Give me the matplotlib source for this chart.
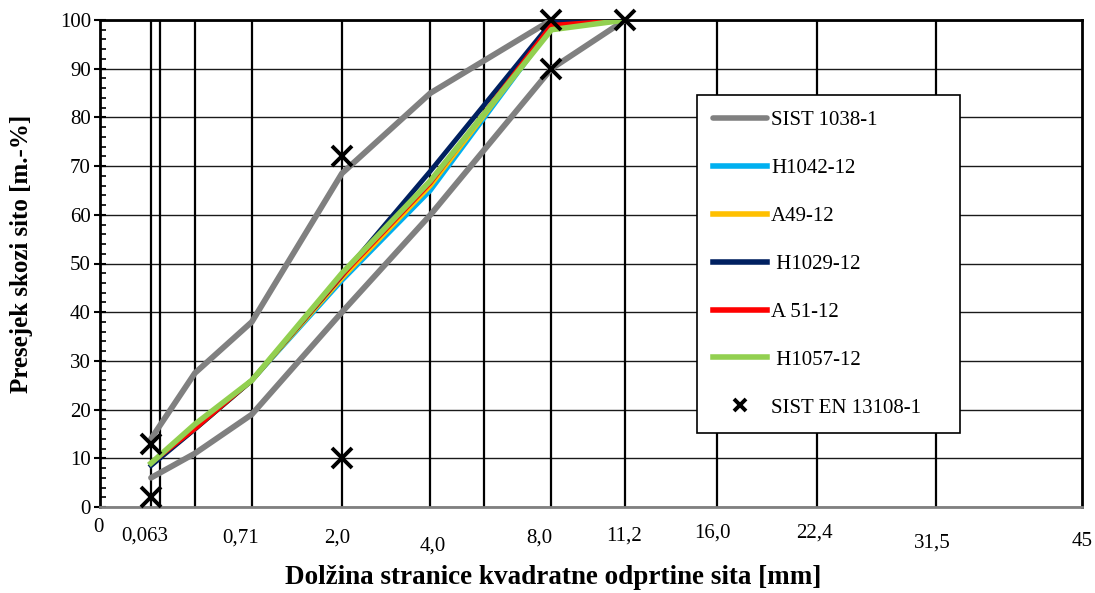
import matplotlib
matplotlib.use("Agg")
import matplotlib.pyplot as plt
import numpy as np

plt.rcParams['font.family'] = ['Liberation Serif', 'DejaVu Serif']

# sita (mm) in presejki (m.-%)
sita = [0.063, 0.25, 0.71, 2.0, 4.0, 8.0, 11.2]
meja_zg = [14, 27.5, 38, 68.5, 85, 100, 100]
meja_sp = [6, 11, 19, 40, 60, 90, 100]
h1042 = [9, 16, 26, 46.5, 65, 98.5, 100]
a49 = [9, 16, 26, 47, 66, 98.5, 100]
h1029 = [8.5, 16, 26, 47.5, 69, 99.5, 100]
a51 = [9, 16, 26, 47.5, 66.5, 99, 100]
h1057 = [9, 17, 26, 48, 67, 98, 100]

# SIST EN 13108-1 tocke
en_x = [0.063, 0.063, 2.0, 2.0, 8.0, 8.0, 11.2]
en_y = [13, 2, 72, 10, 100, 90, 100]

# navpicne crte sit in oznake
crte = [0.063, 0.09, 0.25, 0.71, 2.0, 4.0, 5.6, 8.0, 11.2, 16.0, 22.4, 31.5]
oznake_x = [0, 0.063, 0.71, 2.0, 4.0, 8.0, 11.2, 16.0, 22.4, 31.5, 45]
oznake = ['0', '0,063', '0,71', '2,0', '4,0', '8,0', '11,2', '16,0', '22,4', '31,5', '45']
# zamiki oznak v pikslih (dx, dy)
zamiki = [(-2, -25), (-6, -33), (-11, -35), (-5, -35), (2, -43), (-12, -35),
          (-1, -33), (-4, -30), (-3, -30), (-4, -40), (0, -39)]


def fwd(x):
    return np.power(np.clip(x, 0, None), 0.45)


def inv(y):
    return np.power(np.clip(y, 0, None), 1 / 0.45)


fig = plt.figure(figsize=(10.95, 5.93), dpi=100)
ax = fig.add_axes([100 / 1095, 86 / 593, 982 / 1095, 487 / 593])
ax.set_xscale('function', functions=(fwd, inv))
ax.set_xlim(0, 45)
ax.set_ylim(0, 100)

for c in crte:
    ax.axvline(c, color='black', lw=1.6, zorder=1)
ax.set_yticks(np.arange(0, 101, 10))
ax.set_yticks(np.arange(0, 101, 2), minor=True)
ax.yaxis.grid(True, which='major', color='#1a1a1a', lw=1.0, zorder=1)
ax.set_axisbelow(True)
ax.set_xticks([])
ax.set_xticks([], minor=True)
ax.tick_params(axis='y', which='major', direction='inout', length=9, width=1.5,
               labelsize=15, pad=2)
ax.tick_params(axis='y', which='minor', direction='in', length=4, width=1.2)

for s in ['top', 'left', 'right']:
    ax.spines[s].set_color('black')
    ax.spines[s].set_linewidth(2.0)
ax.spines['bottom'].set_color('#808080')
ax.spines['bottom'].set_linewidth(2.0)

ax.plot(sita, meja_zg, color='#808080', lw=4.2, solid_capstyle='round', label='SIST 1038-1', zorder=3)
ax.plot(sita, meja_sp, color='#808080', lw=4.2, solid_capstyle='round', zorder=3)
ax.plot(sita, h1042, color='#00B0F0', lw=3.5, label='H1042-12', zorder=4)
ax.plot(sita, a49, color='#FFC000', lw=3.5, label='A49-12', zorder=4)
ax.plot(sita, h1029, color='#002060', lw=3.5, label=' H1029-12', zorder=4)
ax.plot(sita, a51, color='#FF0000', lw=3.0, label='A 51-12', zorder=5)
ax.plot(sita, h1057, color='#92D050', lw=4, label=' H1057-12', zorder=5)
ax.plot(en_x, en_y, linestyle='none', marker='x', color='black', ms=14, mew=2.8,
        label='SIST EN 13108-1', zorder=6, clip_on=False)

leg = ax.legend(loc='upper left', bbox_to_anchor=(0.608, 0.158, 0.268, 0.688),
                mode='expand', fontsize=15, frameon=True, fancybox=False,
                edgecolor='black', framealpha=1, handlelength=2.6,
                handletextpad=0.2, labelspacing=1.36, borderpad=0.75,
                borderaxespad=0)
leg.get_frame().set_linewidth(1.2)
leg.set_zorder(10)
for h in leg.legend_handles[:-1]:
    h.set_linewidth(4)
leg.legend_handles[-1].set_markersize(9)

for xv, t, (dx, dy) in zip(oznake_x, oznake, zamiki):
    ax.annotate(t, xy=(xv, 0), xycoords=('data', 'axes fraction'),
                xytext=(dx * 0.72, dy * 0.72 + 3), textcoords='offset points',
                ha='center', va='center', fontsize=15, annotation_clip=False)

fig.text(553 / 1095, 1 - 578 / 593, 'Dolžina stranice kvadratne odprtine sita [mm]',
         ha='center', va='center', fontsize=19.5, fontweight='bold')
fig.text(22 / 1095, 1 - 254 / 593, 'Presejek skozi sito [m.-%]', rotation=90,
         ha='center', va='center', fontsize=18, fontweight='bold')

fig.savefig('out.png', dpi=100)
